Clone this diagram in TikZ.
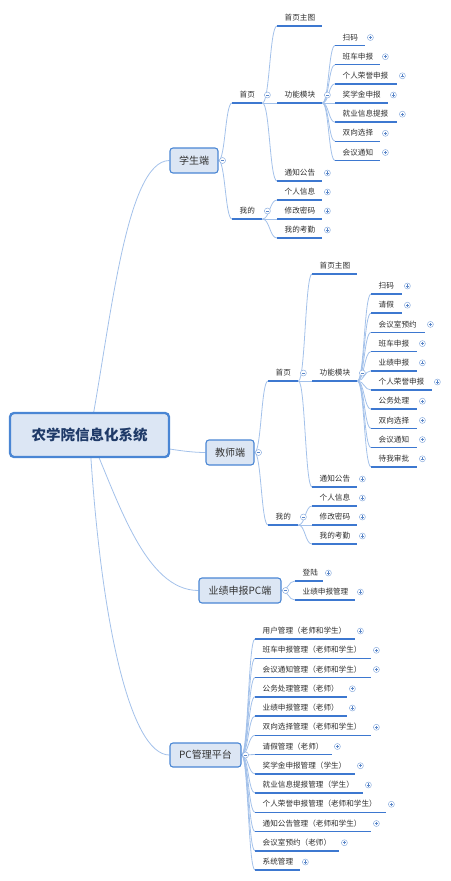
\documentclass[tikz,border=0pt]{standalone}
\usepackage{fontspec}
\setmainfont{Noto Sans CJK SC}
\usetikzlibrary{calc,backgrounds}
\definecolor{conncol}{HTML}{A3C1EA}
\definecolor{ulcol}{HTML}{3D78D0}
\definecolor{boxfill}{HTML}{DCE6F4}
\definecolor{boxdraw}{HTML}{4A86D4}
\definecolor{roottext}{HTML}{1F3A68}
\definecolor{circcol}{HTML}{8FB0E0}
\definecolor{markcol}{HTML}{5A86C8}
\tikzset{
  leaf/.style={anchor=south west, inner xsep=7.5pt, inner ysep=0pt, minimum height=16pt,
    align=left, font=\fontsize{7.6}{9}\selectfont, text=black!82},
  uline/.style={draw=ulcol, line width=1.5pt},
  conn/.style={draw=conncol, line width=0.8pt},
  subbox/.style={draw=boxdraw, fill=boxfill, line width=1.1pt, rounded corners=3pt,
    inner sep=0pt, font=\fontsize{10}{12}\selectfont, text=black!80},
  rootbox/.style={draw=boxdraw, fill=boxfill, line width=2.3pt, rounded corners=4pt,
    inner sep=0pt, minimum width=159pt, minimum height=44pt,
    font=\fontsize{14.5}{17}\selectfont\bfseries, text=roottext},
  pluscirc/.style={circle, draw=circcol, fill=white, line width=0.5pt, minimum size=6pt, inner sep=0pt,
    path picture={\draw[markcol, line width=0.55pt]
      ([xshift=-1.6pt]path picture bounding box.center) -- ([xshift=1.6pt]path picture bounding box.center)
      ([yshift=-1.6pt]path picture bounding box.center) -- ([yshift=1.6pt]path picture bounding box.center);}},
  minuscirc/.style={circle, draw=circcol, fill=white, line width=0.5pt, minimum size=6pt, inner sep=0pt,
    path picture={\draw[markcol, line width=0.55pt]
      ([xshift=-1.6pt]path picture bounding box.center) -- ([xshift=1.6pt]path picture bounding box.center);}},
}
% #1 name, #2 x, #3 underline y, #4 underline end x, #5 mark p/m/n, #6 text
\newcommand\lf[6]{%
  \pgfmathsetmacro\lfw{#4-#2-15}%
  \node[leaf, text width=\lfw pt] (#1) at (#2,#3) {#6};
  \draw[uline] (#1.south west) -- (#1.south east);
  \if#5p\node[pluscirc] (#1-c) at ([xshift=5pt,yshift=8pt]#1.south east) {};\fi
  \if#5m\node[minuscirc] (#1-c) at ([xshift=5pt,yshift=8pt]#1.south east) {};\fi
}
\newcommand\cn[2]{\draw[conn] let \p1=(#1), \p2=(#2) in
  (\p1) .. controls ({(\x1+\x2)/2},\y1) and ({(\x1+\x2)/2},\y2) .. (\p2);}
\begin{document}
\begin{tikzpicture}[x=1pt,y=-1pt]
\useasboundingbox (0,0) rectangle (450,881);
% root
\node[rootbox] (r) at (89.5,435) {农学院信息化系统};
% level 1 boxes
\node[subbox, minimum width=48pt, minimum height=25pt] (s) at (194,160.5) {学生端};
\node[minuscirc] (s-c) at ([xshift=4pt]s.east) {};
\node[subbox, minimum width=48pt, minimum height=25pt] (t) at (230,452.5) {教师端};
\node[minuscirc] (t-c) at ([xshift=4pt]t.east) {};
\node[subbox, minimum width=82pt, minimum height=25pt] (p) at (240,590.5) {业绩申报PC端};
\node[minuscirc] (p-c) at ([xshift=4pt]p.east) {};
\node[subbox, minimum width=71pt, minimum height=24pt] (m) at (205.5,755) {PC管理平台};
\node[minuscirc] (m-c) at ([xshift=4pt]m.east) {};
% student
\lf{s1}{232}{103}{262}{m}{首页}
\lf{s2}{232}{219}{262}{m}{我的}
\lf{s11}{277}{26}{322}{n}{首页主图}
\lf{s12}{277}{103}{322}{m}{功能模块}
\lf{s13}{277}{181}{322}{p}{通知公告}
\lf{s21}{277}{200}{322}{p}{个人信息}
\lf{s22}{277}{219}{322}{p}{修改密码}
\lf{s23}{277}{238}{322}{p}{我的考勤}
\lf{sa}{335}{45.5}{365}{p}{扫码}
\lf{sb}{335}{64.7}{380}{p}{班车申报}
\lf{sc}{335}{83.8}{397}{p}{个人荣誉申报}
\lf{sd}{335}{103}{388}{p}{奖学金申报}
\lf{se}{335}{122.2}{397}{p}{就业信息提报}
\lf{sf}{335}{141.3}{380}{p}{双向选择}
\lf{sg}{335}{160.5}{380}{p}{会议通知}
% teacher
\lf{t1}{268}{381}{298}{m}{首页}
\lf{t2}{268}{525}{298}{m}{我的}
\lf{t11}{312}{274}{357}{n}{首页主图}
\lf{t12}{312}{381}{357}{m}{功能模块}
\lf{t13}{312}{487}{357}{p}{通知公告}
\lf{t21}{312}{506}{357}{p}{个人信息}
\lf{t22}{312}{525}{357}{p}{修改密码}
\lf{t23}{312}{544}{357}{p}{我的考勤}
\lf{ta}{371}{294}{402}{p}{扫码}
\lf{tb}{371}{313.2}{402}{p}{请假}
\lf{tc}{371}{332.4}{425}{p}{会议室预约}
\lf{td}{371}{351.6}{417}{p}{班车申报}
\lf{te}{371}{370.8}{417}{p}{业绩申报}
\lf{tf}{371}{390}{432}{p}{个人荣誉申报}
\lf{tg}{371}{409.2}{417}{p}{公务处理}
\lf{th}{371}{428.4}{417}{p}{双向选择}
\lf{ti}{371}{447.6}{417}{p}{会议通知}
\lf{tj}{371}{466.8}{417}{p}{待我审批}
% PC report
\lf{p1}{295}{581}{323}{p}{登陆}
\lf{p2}{295}{600}{355}{p}{业绩申报管理}
% PC management
\lf{m1}{255}{639}{355}{p}{用户管理（老师和学生）}
\lf{m2}{255}{658.25}{371}{p}{班车申报管理（老师和学生）}
\lf{m3}{255}{677.5}{371}{p}{会议通知管理（老师和学生）}
\lf{m4}{255}{696.75}{347}{p}{公务处理管理（老师）}
\lf{m5}{255}{716}{347}{p}{业绩申报管理（老师）}
\lf{m6}{255}{735.25}{371}{p}{双向选择管理（老师和学生）}
\lf{m7}{255}{754.5}{332}{p}{请假管理（老师）}
\lf{m8}{255}{773.75}{355}{p}{奖学金申报管理（学生）}
\lf{m9}{255}{793}{363}{p}{就业信息提报管理（学生）}
\lf{m10}{255}{812.25}{386}{p}{个人荣誉申报管理（老师和学生）}
\lf{m11}{255}{831.5}{371}{p}{通知公告管理（老师和学生）}
\lf{m12}{255}{850.75}{339}{p}{会议室预约（老师）}
\lf{m13}{255}{870}{300}{p}{系统管理}
% connectors
\begin{pgfonlayer}{background}
\draw[conn] (r.center) .. controls (110,330) and (125,160.5) .. (s.west);
\draw[conn] (r.center) .. controls (150,445) and (180,452.5) .. (t.west);
\draw[conn] (r.center) .. controls (118,500) and (145,590.5) .. (p.west);
\draw[conn] (r.center) .. controls (100,620) and (130,755) .. (m.west);
\cn{s.east}{s1.south west}
\cn{s.east}{s2.south west}
\foreach \c in {s11,s12,s13}{\cn{s1.south east}{\c.south west}}
\foreach \c in {s21,s22,s23}{\cn{s2.south east}{\c.south west}}
\foreach \c in {sa,sb,sc,sd,se,sf,sg}{\cn{s12.south east}{\c.south west}}
\cn{t.east}{t1.south west}
\cn{t.east}{t2.south west}
\foreach \c in {t11,t12,t13}{\cn{t1.south east}{\c.south west}}
\foreach \c in {t21,t22,t23}{\cn{t2.south east}{\c.south west}}
\foreach \c in {ta,tb,tc,td,te,tf,tg,th,ti,tj}{\cn{t12.south east}{\c.south west}}
\foreach \c in {p1,p2}{\cn{p.east}{\c.south west}}
\foreach \c in {m1,m2,m3,m4,m5,m6,m7,m8,m9,m10,m11,m12,m13}{\cn{m.east}{\c.south west}}
\end{pgfonlayer}
\end{tikzpicture}
\end{document}
